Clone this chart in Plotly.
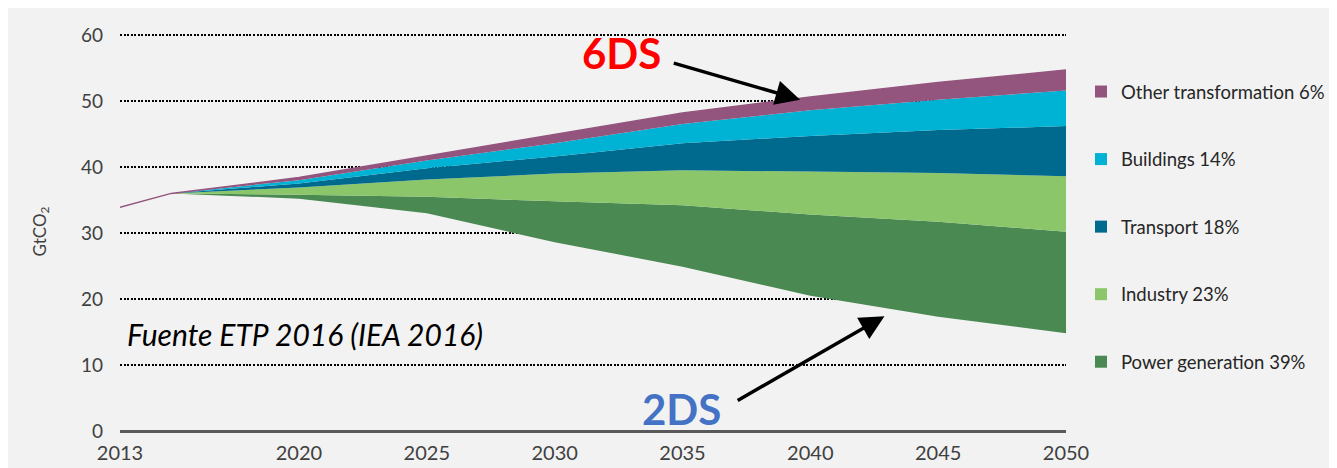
import plotly.graph_objects as go

years = [2013, 2015, 2020, 2025, 2030, 2035, 2040, 2045, 2050]
ds2_base = [33.9, 36.0, 35.2, 33.0, 28.6, 24.9, 20.5, 17.3, 14.8]
power = [0, 0, 0.6, 2.5, 6.2, 9.3, 12.3, 14.4, 15.4]
industry = [0, 0, 1.1, 2.6, 4.2, 5.3, 6.5, 7.4, 8.4]
transport = [0, 0, 0.6, 1.7, 2.6, 4.1, 5.4, 6.5, 7.6]
buildings = [0, 0, 0.5, 1.2, 2.0, 2.9, 3.9, 4.6, 5.4]
other = [0, 0, 0.4, 0.7, 1.4, 1.7, 2.0, 2.6, 3.1]

sector_names = ["Power generation 39%", "Industry 23%", "Transport 18%",
                "Buildings 14%", "Other transformation 6%"]
sector_values = [power, industry, transport, buildings, other]
sector_colors = ["#4a8a52", "#8cc66a", "#006a8e", "#00b2d3", "#93557e"]

xticks = [2013, 2020, 2025, 2030, 2035, 2040, 2045, 2050]
yticks = [0, 10, 20, 30, 40, 50, 60]

FONT = "Lato"
BG = "#f2f2f2"

# geometry (page has an 8px body margin)
W, H = 1329, 460
L, R, T, B = 112, 271, 24, 37
PW, PH = W - L - R, H - T - B
YTOP = 60 * PH / 396.0


def px(sx):
    return (sx - 8 - L) / PW


def py(sy):
    return (H - B - (sy - 8)) / PH


fig = go.Figure()

fig.add_trace(go.Scatter(
    x=years, y=ds2_base, stackgroup="s", mode="lines",
    line=dict(width=0, color=BG), fillcolor="rgba(0,0,0,0)",
    showlegend=False, hoverinfo="skip"))

for name, vals, col in zip(sector_names, sector_values, sector_colors):
    is_top = name.startswith("Other")
    fig.add_trace(go.Scatter(
        x=years, y=vals, stackgroup="s", mode="lines",
        line=dict(width=1.5 if is_top else 0, color=col),
        fillcolor=col, name=name, showlegend=False))

# legend entries (top to bottom)
for name, col in reversed(list(zip(sector_names, sector_colors))):
    fig.add_trace(go.Scatter(
        x=[None], y=[None], mode="markers", name=name,
        marker=dict(symbol="square", size=12, color=col),
        legendgroup=name, showlegend=True))

# arrows
fig.add_annotation(x=2039.6, y=50.2, ax=2034.6, ay=55.8, axref="x", ayref="y",
                   xref="x", yref="y", text="", showarrow=True,
                   arrowhead=2, arrowsize=1.4, arrowwidth=3.5, arrowcolor="black")
fig.add_annotation(x=2042.9, y=17.4, ax=2037.1, ay=4.5, axref="x", ayref="y",
                   xref="x", yref="y", text="", showarrow=True,
                   arrowhead=2, arrowsize=1.4, arrowwidth=3.5, arrowcolor="black")

# texts
fig.add_annotation(x=px(621), y=py(53), xref="paper", yref="paper",
                   xanchor="center", yanchor="middle", text="<b>6DS</b>",
                   showarrow=False, font=dict(family=FONT, size=42, color="#ff0000"))
fig.add_annotation(x=px(681), y=py(409), xref="paper", yref="paper",
                   xanchor="center", yanchor="middle", text="<b>2DS</b>",
                   showarrow=False, font=dict(family=FONT, size=42, color="#4472c4"))
fig.add_annotation(x=px(125), y=py(334), xref="paper", yref="paper",
                   xanchor="left", yanchor="middle",
                   text="<i>Fuente ETP 2016 (IEA 2016)</i>", showarrow=False,
                   font=dict(family=FONT, size=30, color="black"))

fig.update_layout(
    width=W, height=H,
    margin=dict(l=L, r=R, t=T, b=B, autoexpand=False),
    paper_bgcolor=BG, plot_bgcolor=BG,
    font=dict(family=FONT, color="#404040"),
    showlegend=True,
    legend=dict(x=px(1081), y=py(73), xanchor="left", yanchor="top",
                traceorder="grouped", tracegroupgap=40.5,
                font=dict(family=FONT, size=18.5, color="#262626"),
                bgcolor="rgba(0,0,0,0)", itemwidth=30),
    xaxis=dict(range=[2013, 2050], tickvals=xticks, ticktext=[str(t) for t in xticks],
               showgrid=False, zeroline=False, showline=False, ticks="",
               ticklabelstandoff=8,
               tickfont=dict(family=FONT, size=20, color="#404040")),
    yaxis=dict(range=[0, YTOP], tickvals=yticks, showgrid=True,
               gridcolor="black", gridwidth=2, griddash="2px,1.5px",
               zeroline=True, zerolinecolor="#595959", zerolinewidth=2.5,
               showline=False, ticks="", ticklabelstandoff=16,
               tickfont=dict(family=FONT, size=19, color="#404040"),
               title=dict(text="GtCO<sub>2</sub>", standoff=30,
                          font=dict(family=FONT, size=17, color="#404040"))),
)

fig.write_html("out.html")
